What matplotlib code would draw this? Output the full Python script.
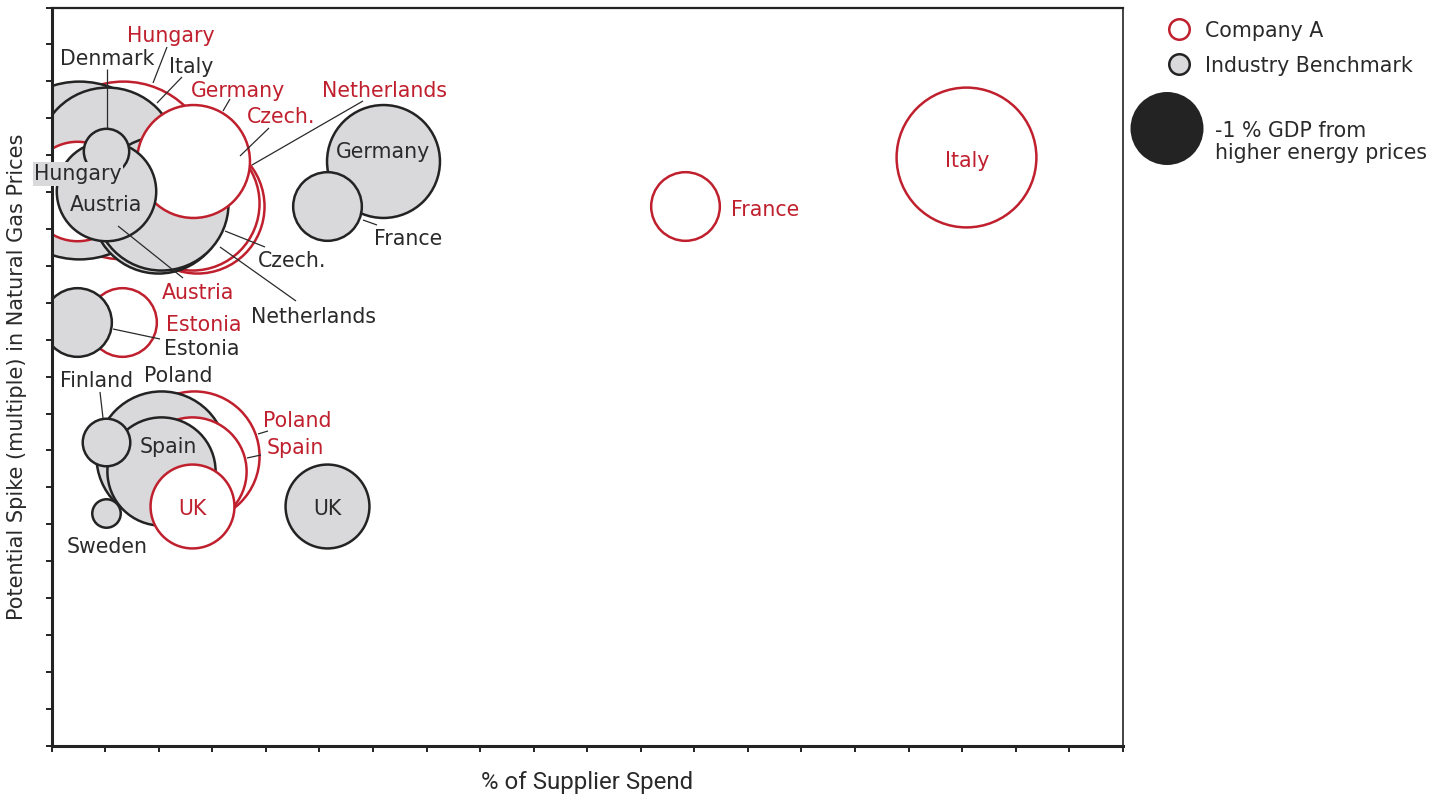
import matplotlib
matplotlib.use("Agg")
import matplotlib.pyplot as plt
from matplotlib import font_manager
import numpy as np

# ---------------- data ----------------
countries = ["Hungary", "Italy", "Netherlands", "Czech.", "Poland", "Germany", "Spain",
             "Austria", "UK", "Estonia", "France", "Finland", "Denmark", "Sweden"]
# potential spike (multiple) in natural gas prices  (y)
spike_multiple = [15.61, 15.94, 14.62, 14.70, 7.86, 15.83, 7.45,
                  15.04, 6.50, 11.49, 14.61, 8.24, 16.10, 6.31]
# GDP loss from higher energy prices (bubble area, 1.0 = -1 % GDP)
gdp_loss = [6.1, 3.8, 3.5, 3.5, 3.3, 2.5, 2.3,
            1.95, 1.4, 0.95, 0.95, 0.47, 0.43, 0.18]
# % of supplier spend (x)
company_a_spend = [1.33, 17.08, 2.71, 2.62, 2.65, 2.63, 2.62,
                   0.47, 2.62, 1.31, 11.82, None, None, None]
benchmark_spend = [0.51, 1.03, 1.98, 2.04, 2.04, 6.18, 2.04,
                   1.01, 5.14, 0.48, 5.14, 1.01, 1.01, 1.01]

series_names = ["Company A", "Industry Benchmark"]
size_legend_text = "-1 % GDP from\nhigher energy prices"
x_title = "% of Supplier Spend"
y_title = "Potential Spike (multiple) in Natural Gas Prices"

# ---------------- style ----------------
RED = "#C0202E"
GRAY_FILL = "#D9D8DA"
EDGE = "#232323"
TEXT_DARK = "#2a2a2a"
LINE_C = "#2a2a2a"
FONT = "DejaVu Sans"
FS = 14.8

avail = {f.name for f in font_manager.fontManager.ttflist}
if "Liberation Sans Narrow" in avail:
    NARROW, NARROW_FS = "Liberation Sans Narrow", 21.2
else:
    NARROW, NARROW_FS = "Roboto", 17.3

W, H, DPI = 1453, 796, 100
fig = plt.figure(figsize=(W / DPI, H / DPI), dpi=DPI)
AX_L, AX_R, AX_T, AX_B = 51.7, 1122.7, 7.5, 745.7
ax = fig.add_axes([AX_L / W, 1 - AX_B / H, (AX_R - AX_L) / W, (AX_B - AX_T) / H])
ax.set_xlim(0, 20)
ax.set_ylim(0, 20)


def px(x, y):
    """figure pixel (origin top-left) -> data coords"""
    return ((x - AX_L) / (AX_R - AX_L) * 20, (AX_B - y) / (AX_B - AX_T) * 20)


# bubble scale: radius (px, outer) of a 1.0 bubble
REF_R = 36.5
LW_PT = 1.8
LW_PX = LW_PT * DPI / 72


def size_of(v):
    d_px = 2 * REF_R * np.sqrt(v) - LW_PX
    return (d_px * 72 / DPI) ** 2


# draw order: largest first; at equal size Company A before benchmark
entries = []
for i in range(len(countries)):
    if company_a_spend[i] is not None:
        entries.append((-gdp_loss[i], 0, i))
    if benchmark_spend[i] is not None:
        entries.append((-gdp_loss[i], 1, i))
entries.sort()
for k, (_, s, i) in enumerate(entries):
    xv = company_a_spend[i] if s == 0 else benchmark_spend[i]
    ax.scatter([xv], [spike_multiple[i]], s=size_of(gdp_loss[i]),
               facecolor="white" if s == 0 else GRAY_FILL,
               edgecolor=RED if s == 0 else EDGE,
               linewidths=LW_PT, zorder=2 + k * 0.01)

# ---------------- labels (layout, in pixels) ----------------
# (series, country): (text x, baseline y, leader line or None)
label_layout = {
    (0, "Hungary"): (171, 42.5, ((167, 47), (153, 83))),
    (0, "Germany"): (238, 97, ((230, 99), (223, 111))),
    (0, "Netherlands"): (384, 97, ((363, 101), (252, 165))),
    (0, "Czech."): (281, 123, ((269, 128), (240, 156))),
    (0, "Austria"): (198.5, 299, ((183, 278), (118, 226))),
    (0, "Estonia"): (204, 331, None),
    (0, "France"): (765, 216, None),
    (0, "Italy"): (967, 167, None),
    (0, "Poland"): (297.5, 427, ((258, 434), (268, 431))),
    (0, "Spain"): (295.5, 454, ((247, 458), (261, 455))),
    (0, "UK"): (192, 515, None),
    (1, "Denmark"): (107.5, 65, ((107, 69), (107, 128))),
    (1, "Italy"): (191, 73, ((182, 77), (157, 103))),
    (1, "Hungary"): (78, 180, None),
    (1, "Austria"): (106.5, 211, None),
    (1, "Germany"): (383, 158, None),
    (1, "France"): (408.5, 245, ((363, 220), (377, 225))),
    (1, "Czech."): (292.5, 267, ((225, 231), (265, 247))),
    (1, "Netherlands"): (313.5, 323, ((220, 247), (296, 301))),
    (1, "Estonia"): (201.5, 355, ((113, 329), (160, 339))),
    (1, "Finland"): (97, 387, ((100, 392), (103, 418))),
    (1, "Poland"): (178.5, 382, None),
    (1, "Spain"): (168.5, 453, None),
    (1, "UK"): (327.5, 515, None),
    (1, "Sweden"): (107, 552.7, None),
}
boxed = {(1, "Hungary")}

for (s, name), (tx, ty, line) in label_layout.items():
    color = RED if s == 0 else TEXT_DARK
    kw = {}
    if (s, name) in boxed:
        kw["bbox"] = dict(boxstyle="square,pad=0.08", facecolor=GRAY_FILL, edgecolor="none")
    ax.text(*px(tx, ty), name, color=color, fontsize=FS, family=FONT,
            ha="center", va="baseline", zorder=20, clip_on=False, **kw)
    if line is not None:
        (x0, y0), (x1, y1) = line
        p0, p1 = px(x0, y0), px(x1, y1)
        ax.plot([p0[0], p1[0]], [p0[1], p1[1]], color=LINE_C, lw=0.9,
                zorder=15, clip_on=False, solid_capstyle="butt")

# ---------------- axes styling ----------------
ax.set_xticks(range(0, 21))
ax.set_yticks(range(0, 21))
ax.set_xticklabels([])
ax.set_yticklabels([])
ax.tick_params(direction="out", length=4.5, width=1.4, color=EDGE)
for side, lw in (("left", 2.2), ("bottom", 2.2), ("top", 1.6), ("right", 1.2)):
    ax.spines[side].set_linewidth(lw)
    ax.spines[side].set_color(EDGE)

fig.text(587 / W, 1 - 782 / H, x_title, family=NARROW, fontsize=NARROW_FS,
         color=TEXT_DARK, ha="center", va="center")
fig.text(17 / W, 1 - 377 / H, y_title, family=FONT, fontsize=15, rotation=90,
         color=TEXT_DARK, ha="center", va="center")

# ---------------- legend ----------------
lax = fig.add_axes([0, 0, 1, 1], facecolor="none")
lax.set_xlim(0, W)
lax.set_ylim(H, 0)
lax.axis("off")
leg_r = 11.5
lax.scatter([1179], [29], s=((2 * leg_r - LW_PX) * 0.72) ** 2, facecolor="white",
            edgecolor=RED, linewidths=LW_PT)
lax.scatter([1179], [64], s=((2 * leg_r - LW_PX) * 0.72) ** 2, facecolor=GRAY_FILL,
            edgecolor=EDGE, linewidths=LW_PT)
lax.scatter([1167], [128.5], s=((2 * REF_R) * 0.72) ** 2, facecolor=EDGE,
            edgecolor="none")
lax.text(1205, 37, series_names[0], fontsize=FS, family=FONT, color=TEXT_DARK, va="baseline")
lax.text(1205, 72, series_names[1], fontsize=FS, family=FONT, color=TEXT_DARK, va="baseline")
lax.text(1215, 159, size_legend_text, fontsize=FS, family=FONT, color=TEXT_DARK,
         va="baseline", linespacing=1.1)

fig.savefig("out.png", dpi=DPI)
